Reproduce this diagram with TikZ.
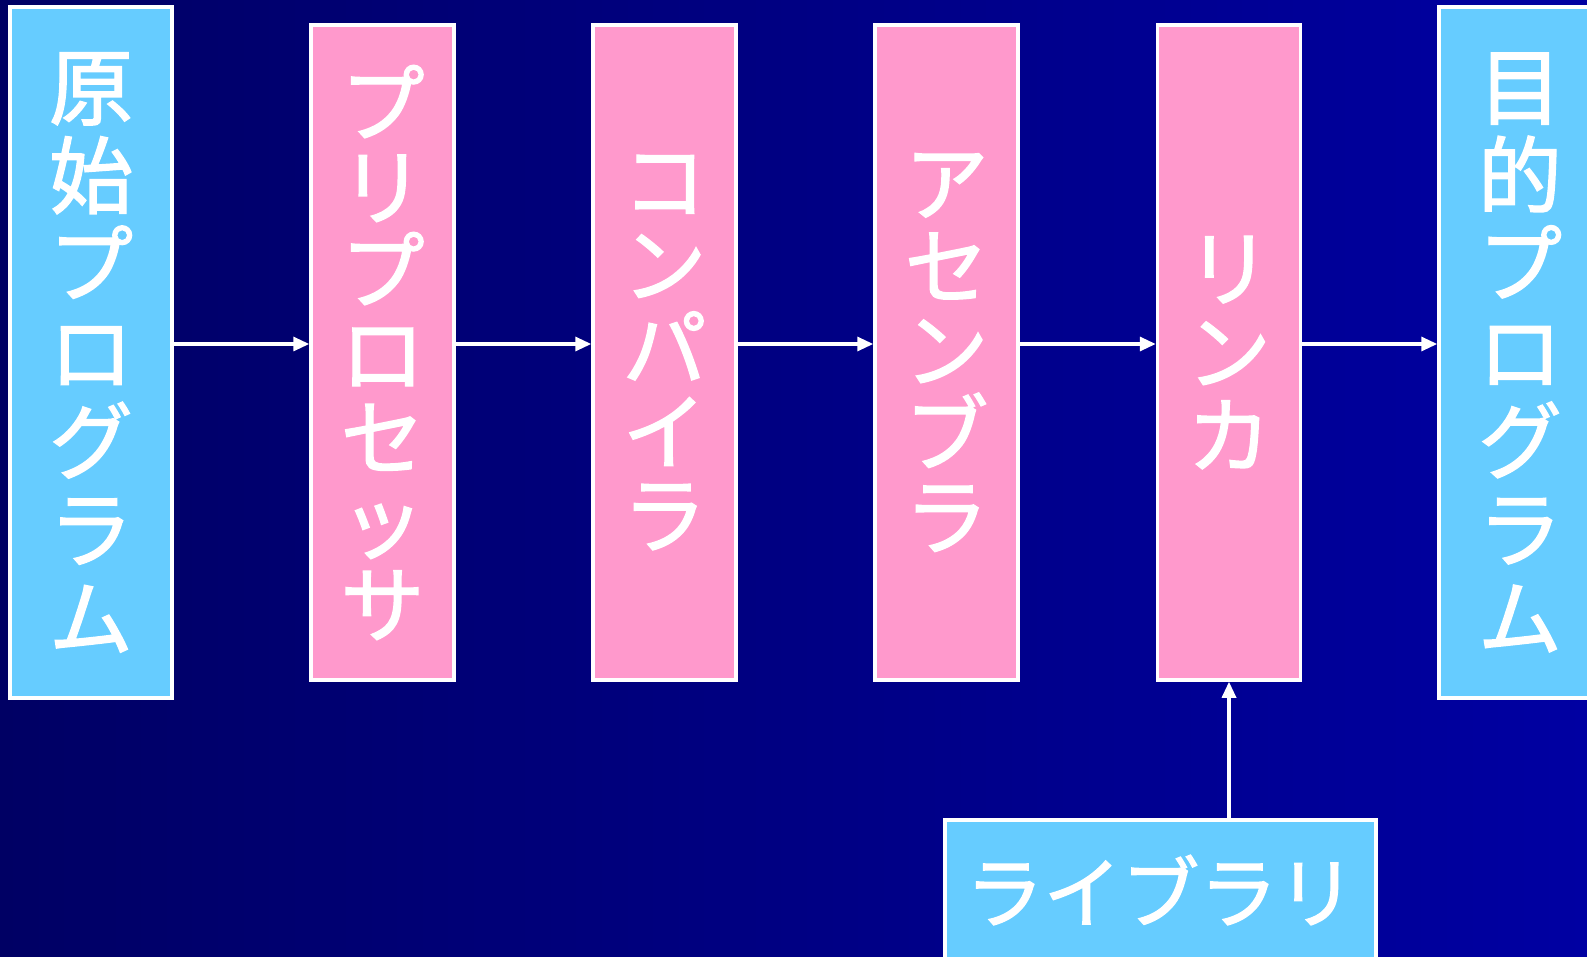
\documentclass[tikz,border=0pt]{standalone}
\usepackage{fontspec}
\newfontfamily\jp[FakeBold=1.6]{Noto Sans CJK JP}
\usetikzlibrary{arrows.meta,calc}
\definecolor{bgL}{RGB}{0,0,100}
\definecolor{bgR}{RGB}{0,0,162}
\definecolor{skyb}{RGB}{102,204,255}
\definecolor{pinkb}{RGB}{255,153,204}
\tikzset{
  blubox/.style={draw=white,line width=3.5pt,fill=skyb,minimum width=162pt,minimum height=691pt,inner sep=0pt,align=center,text=white,font=\jp\fontsize{84}{88.5}\selectfont},
  pinkbox/.style={draw=white,line width=3.5pt,fill=pinkb,minimum width=143pt,minimum height=655pt,inner sep=0pt,align=center,text=white,font=\jp\fontsize{84}{83.5}\selectfont},
  libbox/.style={draw=white,line width=3.5pt,fill=skyb,minimum width=431pt,minimum height=140pt,inner sep=0pt,text=white,font=\jp\fontsize{78}{84}\selectfont},
  arr/.style={draw=white,line width=3.2pt,-{Triangle[length=16pt,width=14pt]}}
}
\begin{document}
\begin{tikzpicture}[x=1pt,y=-1pt]
\useasboundingbox (0,0) rectangle (1587,957);
\clip (0,0) rectangle (1587,957);
\shade[left color=bgL,right color=bgR] (0,0) rectangle (1587,957);
\coordinate (ay) at (0,344);
\node[blubox] (src) at (91,352.5) {原\\始\\プ\\ロ\\グ\\ラ\\ム};
\node[pinkbox] (pre) at (382.5,352.5) {プ\\リ\\プ\\ロ\\セ\\ッ\\サ};
\node[pinkbox] (cmp) at (664.5,352.5) {コ\\ン\\パ\\イ\\ラ};
\node[pinkbox] (asm) at (946.5,352.5) {ア\\セ\\ン\\ブ\\ラ};
\node[pinkbox] (lnk) at (1229,352.5) {リ\\ン\\カ};
\node[blubox] (obj) at (1520,352.5) {目\\的\\プ\\ロ\\グ\\ラ\\ム};
\node[libbox] (lib) at (1160.5,890) {ライブラリ};
\draw[arr] (src.east |- ay) -- (pre.west |- ay);
\draw[arr] (pre.east |- ay) -- (cmp.west |- ay);
\draw[arr] (cmp.east |- ay) -- (asm.west |- ay);
\draw[arr] (asm.east |- ay) -- (lnk.west |- ay);
\draw[arr] (lnk.east |- ay) -- (obj.west |- ay);
\draw[arr] (lib.north -| lnk.south) -- (lnk.south);
\end{tikzpicture}
\end{document}
